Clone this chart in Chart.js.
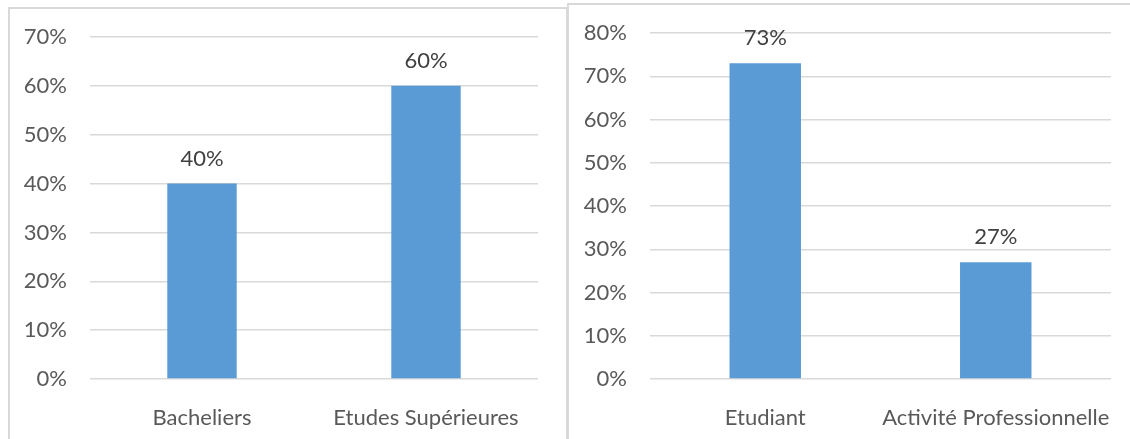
<!DOCTYPE html>
<html>
<head>
<meta charset="utf-8">
<script src="https://cdn.jsdelivr.net/npm/chart.js@4/dist/chart.umd.min.js"></script>
<style>
  html, body { margin: 0; padding: 0; background: #fff; }
  body { width: 1130px; height: 439px; position: relative; overflow: hidden; }
  .box { position: absolute; border: 2px solid #d9d9d9; box-sizing: border-box; }
  canvas { position: absolute; }
</style>
</head>
<body>
<div class="box" style="left:8px; top:7px; width:560px; height:450px;"></div>
<div class="box" style="left:567px; top:3px; width:580px; height:450px;"></div>
<canvas id="chart1" style="left:0; top:0;" width="566" height="439"></canvas>
<canvas id="chart2" style="left:568px; top:0;" width="562" height="439"></canvas>
<script>
// left chart data
const niveauLabels = ['Bacheliers', 'Etudes Supérieures'];
const niveauValues = [40, 60];
const niveauMax = 70;

// right chart data
const statutLabels = ['Etudiant', 'Activité Professionnelle'];
const statutValues = [73, 27];
const statutMax = 80;

const barColor = '#5B9BD5';
const textColor = '#595959';
const gridColor = '#D9D9D9';
const fontStack = 'Lato, "Open Sans", sans-serif';

Chart.defaults.font.family = fontStack;
Chart.defaults.font.size = 22;
Chart.defaults.color = textColor;

// simple value labels above the bars
const valueLabels = {
    id: 'valueLabels',
    afterDatasetsDraw(chart) {
        const ctx = chart.ctx;
        const meta = chart.getDatasetMeta(0);
        ctx.save();
        ctx.font = '22px ' + fontStack;
        ctx.fillStyle = '#404040';
        ctx.textAlign = 'center';
        ctx.textBaseline = 'middle';
        meta.data.forEach(function(bar, i) {
            ctx.fillText(chart.data.datasets[0].data[i] + '%', bar.x, bar.y - 25);
        });
        ctx.restore();
    }
};

function makeChart(id, labels, values, max, axisWidth, pad) {
    return new Chart(document.getElementById(id), {
        type: 'bar',
        data: {
            labels: labels,
            datasets: [{
                data: values,
                backgroundColor: barColor,
                barPercentage: 0.31,
                categoryPercentage: 1
            }]
        },
        options: {
            responsive: false,
            animation: false,
            layout: { padding: pad },
            plugins: { legend: { display: false }, tooltip: { enabled: false } },
            scales: {
                x: {
                    grid: { display: false },
                    border: { display: false },
                    ticks: { padding: 18, maxRotation: 0, autoSkip: false, color: textColor },
                    afterFit: function(scale) {
                        scale.height = 60;
                        scale.paddingLeft = 0;
                        scale.paddingRight = 0;
                    }
                },
                y: {
                    min: 0,
                    max: max,
                    grid: { color: gridColor, lineWidth: 1.5, drawTicks: false },
                    border: { display: false },
                    ticks: {
                        stepSize: 10,
                        padding: 23,
                        color: textColor,
                        callback: function(v) { return v + '%'; }
                    },
                    afterFit: function(scale) {
                        scale.width = axisWidth;
                        scale.paddingTop = 0;
                        scale.paddingBottom = 0;
                    }
                }
            }
        },
        plugins: [valueLabels]
    });
}

makeChart('chart1', niveauLabels, niveauValues, niveauMax, 90, { top: 37, right: 28, bottom: 0, left: 0 });
makeChart('chart2', statutLabels, statutValues, statutMax, 82, { top: 33, right: 19, bottom: 0, left: 0 });
</script>
</body>
</html>
